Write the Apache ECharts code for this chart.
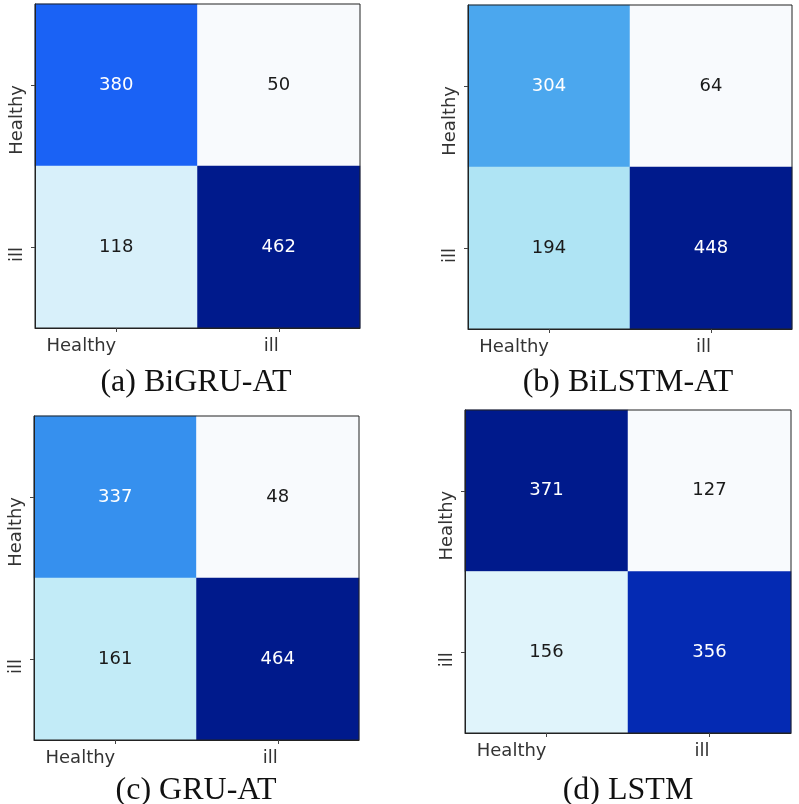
<!DOCTYPE html>
<html>
<head>
<meta charset="utf-8">
<script src="https://cdn.jsdelivr.net/npm/echarts@6/dist/echarts.min.js"></script>
<style>
  html, body { margin: 0; padding: 0; background: #ffffff; }
  #chart { width: 799px; height: 804px; }
</style>
</head>
<body>
<div id="chart"></div>
<script>
// ---- data ----
const classes = ['Healthy', 'ill'];
const panelTitles = ['(a) BiGRU-AT', '(b) BiLSTM-AT', '(c) GRU-AT', '(d) LSTM'];
// rows: true class (Healthy, ill); columns: predicted class (Healthy, ill)
const bigruAt  = [[380, 50], [118, 462]];
const bilstmAt = [[304, 64], [194, 448]];
const gruAt    = [[337, 48], [161, 464]];
const lstm     = [[371, 127], [156, 356]];
const matrices = [bigruAt, bilstmAt, gruAt, lstm];

// ---- layout / style ----
const grids = [
  { left: 35,  top: 4,   width: 325, height: 324 },
  { left: 468, top: 5,   width: 324, height: 324 },
  { left: 34,  top: 416, width: 325, height: 324 },
  { left: 465, top: 410, width: 326, height: 323 }
];
const captionPos = [
  { x: 191, y: 362 },
  { x: 623, y: 362 },
  { x: 191, y: 770 },
  { x: 623, y: 770 }
];
const cmap = ['#f8fafd', '#e3f5fb', '#d2eefa', '#bceaf6', '#9bdbf2', '#77c5f0',
              '#53afee', '#348eee', '#1a62f5', '#0734cc', '#001a8c'];
const tickFont = 'DejaVu Sans';

const option = {
  animation: false,
  backgroundColor: '#ffffff',
  title: [], grid: [], xAxis: [], yAxis: [], visualMap: [], series: []
};

matrices.forEach((m, i) => {
  const flat = m.flat();
  const mn = Math.min(...flat), mx = Math.max(...flat);
  const thresh = (mn + mx) / 2;
  const data = [];
  m.forEach((row, r) => row.forEach((v, c) => {
    data.push({
      value: [c, r, v],
      label: { color: v > thresh ? '#ffffff' : '#1a1a1a' }
    });
  }));

  option.grid.push(Object.assign({
    show: true, z: 10, backgroundColor: 'transparent',
    borderColor: '#222', borderWidth: 1
  }, grids[i]));

  option.title.push({
    text: panelTitles[i],
    left: captionPos[i].x, top: captionPos[i].y,
    textAlign: 'center',
    textStyle: { fontFamily: 'Liberation Serif', fontWeight: 'normal', fontSize: 32, color: '#111' }
  });

  option.xAxis.push({
    gridIndex: i, type: 'category', data: classes, position: 'bottom', z: 10,
    axisLine: { show: true, lineStyle: { color: '#222', width: 1 } },
    axisTick: { show: true, alignWithLabel: true, length: 4, lineStyle: { color: '#444' } },
    axisLabel: { align: 'right', margin: 9, fontSize: 18, fontFamily: tickFont, color: '#333' },
    splitLine: { show: false }, splitArea: { show: false }
  });

  option.yAxis.push({
    gridIndex: i, type: 'category', data: classes, inverse: true, z: 10,
    axisLine: { show: true, lineStyle: { color: '#222', width: 1 } },
    axisTick: { show: true, alignWithLabel: true, length: 4, lineStyle: { color: '#444' } },
    axisLabel: { rotate: 90, align: 'right', verticalAlign: 'bottom', margin: 9,
                 fontSize: 18, fontFamily: tickFont, color: '#333' },
    splitLine: { show: false }, splitArea: { show: false }
  });

  option.visualMap.push({
    type: 'continuous', show: false, seriesIndex: i, dimension: 2,
    min: mn, max: mx, inRange: { color: cmap }
  });

  option.series.push({
    type: 'heatmap', xAxisIndex: i, yAxisIndex: i, data: data,
    label: { show: true, fontSize: 18, fontFamily: tickFont, formatter: p => p.value[2] },
    itemStyle: { borderWidth: 0 },
    emphasis: { disabled: true }
  });
});

const chart = echarts.init(document.getElementById('chart'), null, { renderer: 'canvas' });
chart.setOption(option);
</script>
</body>
</html>
